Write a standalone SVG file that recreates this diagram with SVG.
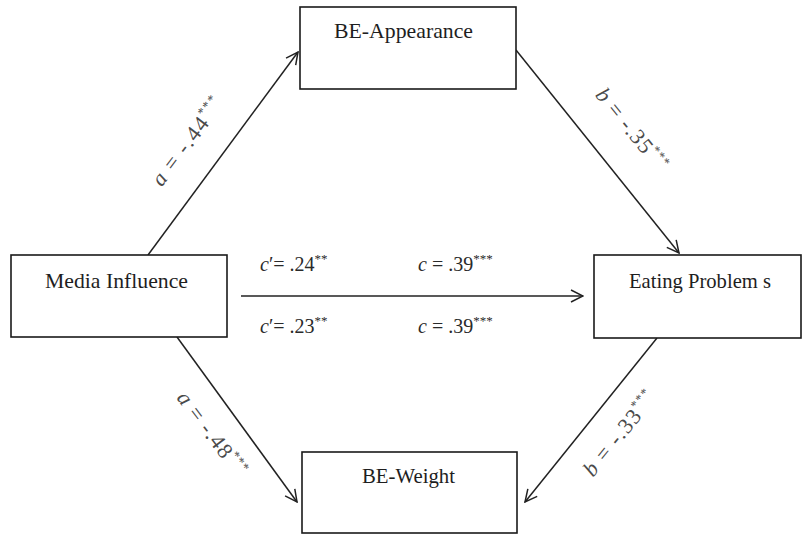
<svg xmlns="http://www.w3.org/2000/svg" width="803" height="535" viewBox="0 0 803 535">
<style>
.box{fill:#fff;stroke:#1a1a1a;stroke-width:1.6}
text{font-family:'Liberation Serif','Times New Roman',serif}
.lbl{font-size:21px;fill:#1e1e1e}
.ed{stroke:#222;stroke-width:1.5;fill:none;marker-end:url(#ah)}
.coef{font-size:20px;fill:#2a2a2a}
.diag{font-size:22px;fill:#4a4a4a}
.it{font-style:italic}
.sup{font-size:13px}
</style>
<defs>
<marker id="ah" viewBox="0 0 14 14" refX="13" refY="7" markerWidth="14" markerHeight="14" markerUnits="userSpaceOnUse" orient="auto">
<path d="M1,1 L13,7 L1,13" fill="none" stroke="#222" stroke-width="1.5"/>
</marker>
</defs>
<rect width="803" height="535" fill="#fff"/>
<g id="connectors">
<line class="ed" x1="148" y1="255" x2="298" y2="52"/>
<line class="ed" x1="516" y1="50" x2="679" y2="253"/>
<line class="ed" x1="241" y1="296" x2="583" y2="296"/>
<line class="ed" x1="177" y1="337" x2="297" y2="502"/>
<line class="ed" x1="657" y1="338" x2="525" y2="502"/>
</g>
<g id="node-be-appearance">
<rect class="box" x="300" y="7" width="216" height="82"/>
<text class="lbl" x="403.5" y="38" text-anchor="middle" textLength="139" lengthAdjust="spacingAndGlyphs">BE-Appearance</text>
</g>
<g id="node-media-influence">
<rect class="box" x="11" y="255" width="216" height="82"/>
<text class="lbl" x="116.5" y="288" text-anchor="middle" textLength="143" lengthAdjust="spacingAndGlyphs">Media Influence</text>
</g>
<g id="node-eating-problems">
<rect class="box" x="594" y="255" width="207" height="83"/>
<text class="lbl" x="700" y="288" text-anchor="middle" textLength="142" lengthAdjust="spacingAndGlyphs">Eating Problem s</text>
</g>
<g id="node-be-weight">
<rect class="box" x="302" y="452" width="215" height="81"/>
<text class="lbl" x="408.5" y="483" text-anchor="middle" textLength="93" lengthAdjust="spacingAndGlyphs">BE-Weight</text>
</g>
<g id="labels">
<text class="diag" transform="translate(193,146) rotate(-53)" text-anchor="middle" textLength="104" lengthAdjust="spacing"><tspan class="it">a</tspan> = -.44<tspan class="sup" dy="-9">***</tspan></text>
<text class="diag" transform="translate(626,134) rotate(51)" text-anchor="middle" textLength="100" lengthAdjust="spacing"><tspan class="it">b</tspan> = -.35<tspan class="sup" dy="-9">***</tspan></text>
<text class="diag" transform="translate(206,438) rotate(53)" text-anchor="middle" textLength="100" lengthAdjust="spacing"><tspan class="it">a</tspan> = -.48<tspan class="sup" dy="-9">***</tspan></text>
<text class="diag" transform="translate(625,438) rotate(-51)" text-anchor="middle" textLength="102" lengthAdjust="spacing"><tspan class="it">b</tspan> = -.33<tspan class="sup" dy="-9">***</tspan></text>
<text class="coef" x="260" y="271"><tspan class="it">c</tspan>′= .24<tspan class="sup" dy="-8">**</tspan></text>
<text class="coef" x="418" y="271"><tspan class="it">c</tspan> = .39<tspan class="sup" dy="-8">***</tspan></text>
<text class="coef" x="260" y="333"><tspan class="it">c</tspan>′= .23<tspan class="sup" dy="-8">**</tspan></text>
<text class="coef" x="418" y="333"><tspan class="it">c</tspan> = .39<tspan class="sup" dy="-8">***</tspan></text>
</g>
</svg>
